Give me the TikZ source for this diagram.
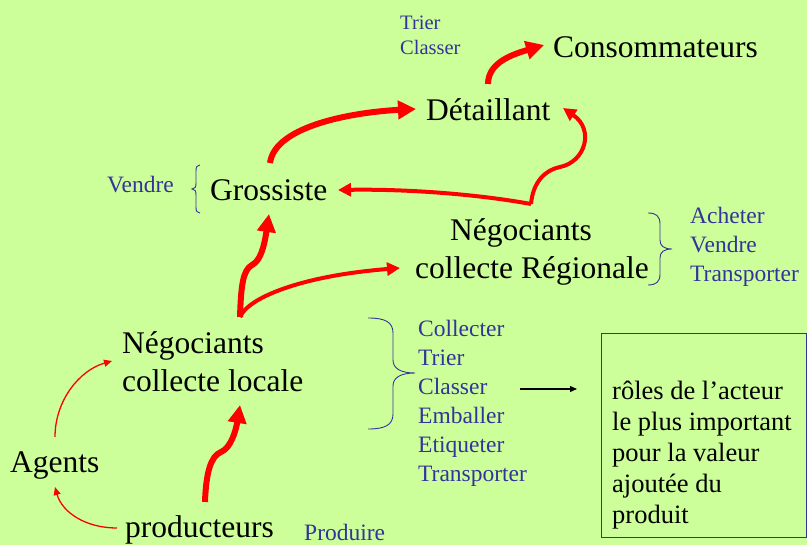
\documentclass[tikz,border=0pt]{standalone}
\usepackage{fontspec}
\setmainfont{Liberation Serif}
\usetikzlibrary{arrows.meta}
\definecolor{paper}{RGB}{204,255,153}
\definecolor{roleblue}{RGB}{51,51,153}
\definecolor{flowred}{RGB}{255,0,0}
\begin{document}
\begin{tikzpicture}[x=1pt,y=-1pt,
  actor/.style={inner sep=0pt, anchor=base west, align=left,
    font=\fontsize{31.5pt}{38.5pt}\selectfont},
  role/.style={inner sep=0pt, anchor=base west, align=left, text=roleblue,
    font=\fontsize{23.5pt}{29pt}\selectfont},
  smallrole/.style={role, font=\fontsize{20.5pt}{25pt}\selectfont},
  note/.style={inner sep=0pt, anchor=base west, align=left,
    font=\fontsize{26.5pt}{31.25pt}\selectfont},
  notebox/.style={draw=roleblue, line width=1pt, inner sep=0pt,
    anchor=north west, minimum width=205pt, minimum height=204pt},
  brace/.style={draw=roleblue, line width=0.9pt},
  bigflow/.style={draw=flowred, line width=6pt, -{Triangle[length=18pt,width=18pt]}},
  midflow/.style={draw=flowred, line width=4pt, -{Triangle[length=13pt,width=13pt]}},
  thinflow/.style={draw=flowred, line width=1.3pt, -{Triangle[length=8pt,width=7pt]}},
  pointer/.style={draw=black, line width=1.2pt, -{Triangle[length=7pt,width=6pt]}},
]
% canvas
\fill[paper] (0,0) rectangle (807,545);
\useasboundingbox (0,0) rectangle (807,545);

% actors of the chain (multi-line nodes sit on their last baseline)
\node[actor] (cons) at (553,58) {Consommateurs};
\node[actor] (det) at (426,121) {Détaillant};
\node[actor] (gros) at (210,201) {Grossiste};
\node[actor] (negreg) at (415,279) {\hspace*{35pt}Négociants\\collecte Régionale};
\node[actor] (negloc) at (122,392) {Négociants\\collecte locale};
\node[actor] (agents) at (10,473) {Agents};
\node[actor] (prod) at (125,538) {producteurs};

% roles
\node[smallrole] (rolesdet) at (400,55) {Trier\\Classer};
\node[role] (rolesgros) at (107,193) {Vendre};
\node[role] (rolesreg) at (690,282) {Acheter\\Vendre\\Transporter};
\node[role] (rolesloc) at (418,482) {Collecter\\Trier\\Classer\\Emballer\\Etiqueter\\Transporter};
\node[role] (rolesprod) at (304,541) {Produire};

% braces
\path[brace] (200,165) .. controls (197,165) and (196,167) .. (196,171) -- (196,183)
  .. controls (196,187) and (195,189) .. (192,189)
  .. controls (195,189) and (196,191) .. (196,195) -- (196,207)
  .. controls (196,211) and (197,213) .. (200,213);
\path[brace] (648,213) .. controls (656,213) and (660,216) .. (660,224) -- (660,240)
  .. controls (660,246) and (664,249) .. (672,249)
  .. controls (664,249) and (660,252) .. (660,258) -- (660,274)
  .. controls (660,282) and (656,285) .. (648,285);
\path[brace] (368,318) .. controls (385,318) and (393,322) .. (393,333) -- (393,360)
  .. controls (393,368) and (400,373) .. (415,373)
  .. controls (400,373) and (393,378) .. (393,386) -- (393,414)
  .. controls (393,425) and (385,429) .. (368,429);

% note box
\node[notebox] (box) at (601,333) {};
\node[note] (boxtext) at (612,524) {rôles de l’acteur\\le plus important\\pour la valeur\\ajoutée du\\produit};

% connector end points
\coordinate (detOut) at (488,84);
\coordinate (consIn) at (544,45);
\coordinate (grosOut) at (270,163);
\coordinate (detInL) at (416,109);
\coordinate (regTop) at (531,204);
\coordinate (grosInR) at (338,190);
\coordinate (detInR) at (563,108);
\coordinate (locTop) at (240,317);
\coordinate (grosInB) at (269,214);
\coordinate (regInL) at (400,268);
\coordinate (prodTop) at (205,502);
\coordinate (locInB) at (240,405);
\coordinate (agentsTop) at (55,437);
\coordinate (locInL) at (112,361);
\coordinate (prodL) at (117,528);
\coordinate (agentsIn) at (55,487);
\coordinate (rolesOut) at (520,389);
\coordinate (boxIn) at (577,389);

% flows
\draw[bigflow] (detOut) .. controls +(0,-22) and +(-30,9) .. (consIn);
\draw[bigflow] (grosOut) .. controls +(5,-38) and +(-60,3) .. (detInL);
\draw[midflow] (regTop) .. controls +(-61,-11) and +(62,-1) .. (grosInR);
\draw[midflow] (regTop) .. controls (533,182) and (545,170) .. (560,167)
  .. controls (585,162) and (595,130) .. (detInR);
\draw[bigflow] (locTop) .. controls (241,285) and (243,270) .. (252,265)
  .. controls (260,261) and (264,248) .. (grosInB);
\draw[midflow] (locTop) .. controls (248,298) and (300,276) .. (regInL);
\draw[bigflow] (prodTop) .. controls (206,472) and (211,456) .. (221,452)
  .. controls (231,448) and (236,430) .. (locInB);
\draw[thinflow] (agentsTop) .. controls (55,400) and (80,370) .. (locInL);
\draw[thinflow] (prodL) .. controls (85,528) and (62,512) .. (agentsIn);
\draw[pointer] (rolesOut) -- (boxIn);
\end{tikzpicture}
\end{document}
